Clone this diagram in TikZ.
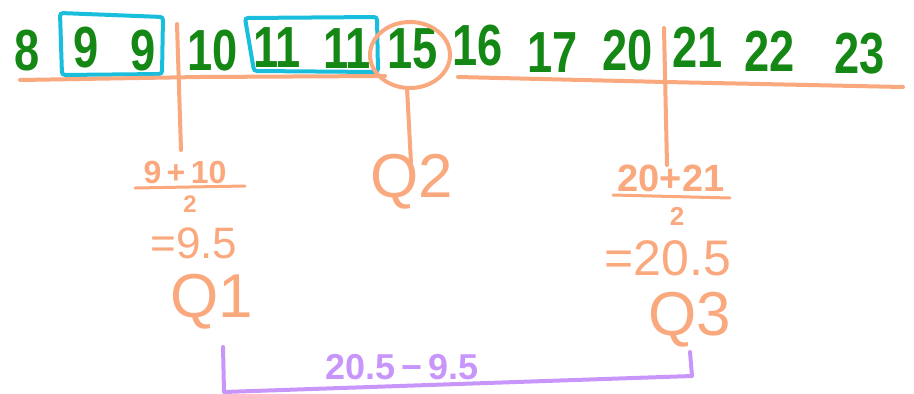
\documentclass[tikz,border=0pt]{standalone}
\usepackage{fontspec}
\setmainfont{Liberation Sans}
\definecolor{numgreen}{RGB}{20,135,20}
\definecolor{qorange}{RGB}{250,168,125}
\definecolor{boxcyan}{RGB}{25,190,220}
\definecolor{brpurple}{RGB}{200,150,250}
\newcommand{\narrowtxt}[1]{\scalebox{0.78}[1]{#1}}
\begin{document}
\begin{tikzpicture}[x=1pt,y=-1pt,
  num/.style={text=numgreen,font=\bfseries\fontsize{58}{58}\selectfont,inner sep=0pt},
  ann/.style={text=qorange,inner sep=0pt},
  oline/.style={draw=qorange,line width=4pt,line cap=round,line join=round},
  cbox/.style={draw=boxcyan,line width=4pt,rounded corners=3pt,line cap=round},
  pline/.style={draw=brpurple,line width=4pt,line cap=round,line join=round}]
\useasboundingbox (0,0) rectangle (914,394);
% top row of numbers
\node[num] (n8)  at (27,51) {\narrowtxt{8}};
\node[num] (n9a) at (86,48) {\narrowtxt{9}};
\node[num] (n9b) at (143,51) {\narrowtxt{9}};
\node[num] (n10) at (213,51) {\narrowtxt{10}};
\node[num] (n11a) at (277,48) {\narrowtxt{11}};
\node[num] (n11b) at (347,49) {\narrowtxt{11}};
\node[num] (n15) at (413,49) {\narrowtxt{15}};
\node[num] (n16) at (478,46) {\narrowtxt{16}};
\node[num] (n17) at (553,53) {\narrowtxt{17}};
\node[num] (n20) at (628,51) {\narrowtxt{20}};
\node[num] (n21) at (698,47) {\narrowtxt{21}};
\node[num] (n22) at (770,51) {\narrowtxt{22}};
\node[num] (n23) at (860,54) {\narrowtxt{23}};
% cyan boxes
\draw[cbox] (60,13) -- (163,17) -- (162,74) -- (62,75) -- cycle;
\draw[cbox] (245,18) -- (377,17) -- (378,72) -- (254,71) -- cycle;
% circle around 15
\draw[oline] (410,55) ellipse [x radius=40, y radius=33];
% horizontal line
\draw[oline] (20,80) -- (200,77) -- (385,76);
\draw[oline] (458,77) -- (665,82) -- (903,87);
% Q1 annotation
\node[ann,font=\bfseries\fontsize{32}{32}\selectfont] (f1num) at (185,172) {9\,+\,10};
\coordinate (f1l) at (135,188);
\coordinate (f1r) at (245,186);
\draw[oline,line width=3pt] (f1l) -- (f1r);
\node[ann,font=\bfseries\fontsize{24}{24}\selectfont] (f1den) at (190,204) {2};
\node[ann,font=\fontsize{44}{44}\selectfont] (f1res) at (194,243) {=9.5};
\node[ann,font=\fontsize{62}{62}\selectfont] (q1) at (212,302) {Q1};
% Q2
\node[ann,font=\fontsize{62}{62}\selectfont] (q2) at (412,182) {Q2};
% Q3 annotation
\node[ann,font=\bfseries\fontsize{38}{38}\selectfont] (f3num) at (671,178) {20+21};
\coordinate (f3l) at (613,195);
\coordinate (f3r) at (730,198);
\draw[oline,line width=3pt] (f3l) -- (f3r);
\node[ann,font=\bfseries\fontsize{26}{26}\selectfont] (f3den) at (677,216) {2};
\node[ann,font=\fontsize{50}{50}\selectfont] (f3res) at (668,258) {=20.5};
\node[ann,font=\fontsize{62}{62}\selectfont] (q3) at (690,320) {Q3};
% vertical connectors
\coordinate (v1t) at (177,24);
\coordinate (v1b) at (181,150);
\draw[oline] (v1t) -- (v1b);
\coordinate (v2t) at (407,88);
\coordinate (v2b) at (411,163);
\draw[oline] (v2t) -- (v2b);
\coordinate (v3t) at (664,28);
\coordinate (v3b) at (667,165);
\draw[oline] (v3t) -- (v3b);
% purple bracket
\coordinate (b1) at (223,347);
\coordinate (b2) at (224,392);
\coordinate (b3) at (692,376);
\coordinate (b4) at (690,352);
\draw[pline] (b1) -- (b2) -- (b3) -- (b4);
\node[text=brpurple,inner sep=0pt,font=\bfseries\fontsize{36}{36}\selectfont] (diff) at (402,367) {20.5\,−\,9.5};
\end{tikzpicture}
\end{document}
